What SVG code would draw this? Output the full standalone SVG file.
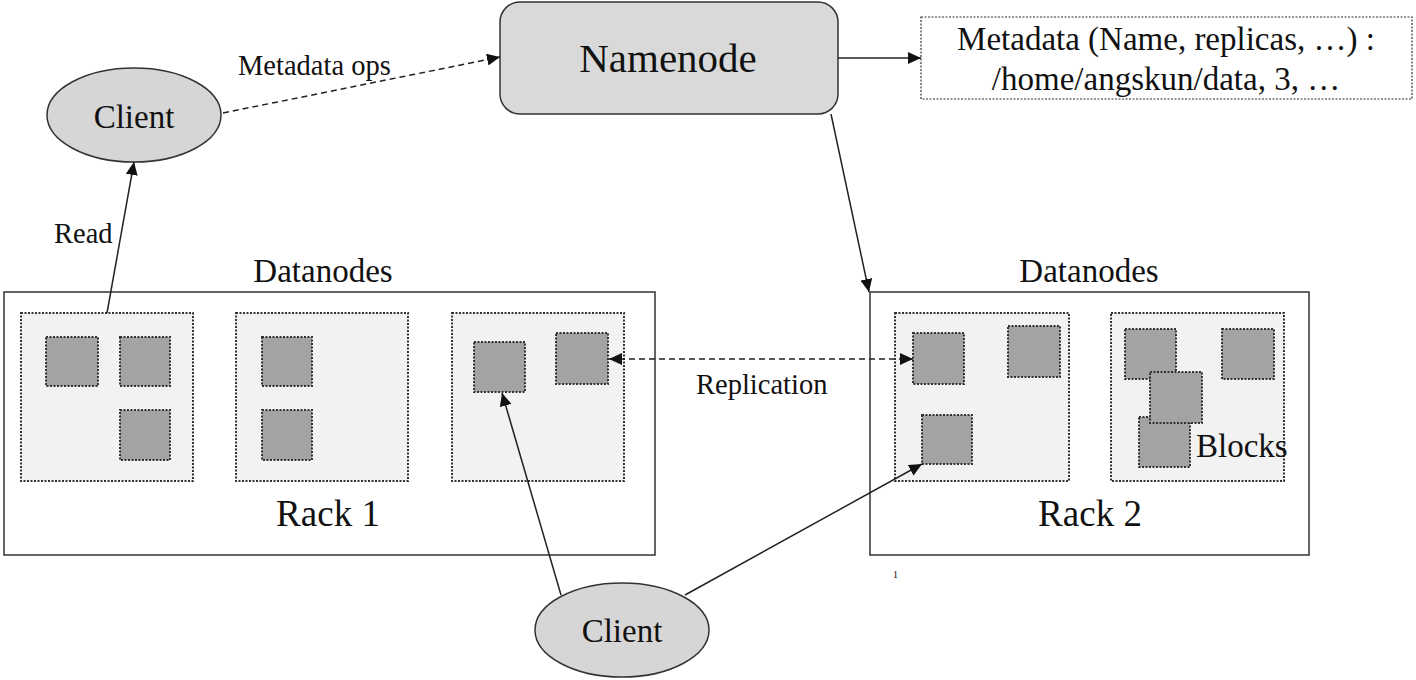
<svg xmlns="http://www.w3.org/2000/svg" width="1416" height="680" viewBox="0 0 1416 680">
<style>
.t{font-family:'Liberation Serif','DejaVu Serif',serif;fill:#111}
.ell{fill:#d6d6d6;stroke:#333;stroke-width:1.5}
.rack{fill:#fff;stroke:#333;stroke-width:1.5}
.node{fill:#f2f2f2;stroke:#333;stroke-width:2;stroke-dasharray:2 1.5}
.blk{fill:#a3a3a3;stroke:#333;stroke-width:2;stroke-dasharray:2 1.5}
.ln{stroke:#222;stroke-width:1.5;fill:none}
.dash{stroke-dasharray:6 4}
</style>
<defs>
<marker id="ah" markerUnits="userSpaceOnUse" markerWidth="14" markerHeight="12" refX="13" refY="6" orient="auto-start-reverse">
<path d="M0,0 L13,6 L0,12 Z" fill="#111"/>
</marker>
</defs>
<rect width="1416" height="680" fill="#fff"/>

<g id="rack1">
<rect class="rack" x="4" y="292" width="651" height="263"/>
<text class="t" font-family="Liberation Serif, serif" x="323" y="282" font-size="33" text-anchor="middle">Datanodes</text>
<text class="t" font-family="Liberation Serif, serif" x="328" y="526" font-size="37" text-anchor="middle">Rack 1</text>
</g>
<g id="dn1">
<rect class="node" x="21" y="313" width="172" height="168"/>
<rect class="blk" x="46" y="337" width="52" height="49"/>
<rect class="blk" x="120" y="337" width="50" height="49"/>
<rect class="blk" x="120" y="410" width="50" height="50"/>
</g>
<g id="dn2">
<rect class="node" x="236" y="313" width="172" height="168"/>
<rect class="blk" x="262" y="337" width="50" height="49"/>
<rect class="blk" x="262" y="410" width="50" height="50"/>
</g>
<g id="dn3">
<rect class="node" x="452" y="313" width="172" height="168"/>
<rect class="blk" x="474" y="342" width="51" height="50"/>
<rect class="blk" x="556" y="333" width="52" height="51"/>
</g>

<g id="rack2">
<rect class="rack" x="870" y="292" width="439" height="263"/>
<text class="t" font-family="Liberation Serif, serif" x="1089" y="282" font-size="33" text-anchor="middle">Datanodes</text>
<text class="t" font-family="Liberation Serif, serif" x="1090" y="526" font-size="37" text-anchor="middle">Rack 2</text>
</g>
<g id="dn4">
<rect class="node" x="895" y="313" width="174" height="168"/>
<rect class="blk" x="913" y="333" width="51" height="51"/>
<rect class="blk" x="1008" y="326" width="52" height="51"/>
<rect class="blk" x="922" y="415" width="50" height="49"/>
</g>
<g id="dn5">
<rect class="node" x="1111" y="313" width="173" height="168"/>
<rect class="blk" x="1125" y="329" width="51" height="50"/>
<rect class="blk" x="1222" y="329" width="52" height="50"/>
<rect class="blk" x="1139" y="417" width="51" height="50"/>
<rect class="blk" x="1150" y="372" width="52" height="51"/>
<text class="t" font-family="Liberation Serif, serif" x="1196" y="457" font-size="33">Blocks</text>
</g>

<g id="namenode">
<rect x="500" y="2" width="338" height="112" rx="20" fill="#d9d9d9" stroke="#333" stroke-width="1.5"/>
<text class="t" font-family="Liberation Serif, serif" x="668" y="72" font-size="41" text-anchor="middle">Namenode</text>
</g>
<g id="metadata">
<rect x="921" y="17" width="491" height="82" fill="#fff" stroke="#333" stroke-width="1.2" stroke-dasharray="2 1.5"/>
<text class="t" font-family="Liberation Serif, serif" x="1166" y="50" font-size="33" text-anchor="middle">Metadata (Name, replicas, …) :</text>
<text class="t" font-family="Liberation Serif, serif" x="1166" y="90" font-size="33" text-anchor="middle">/home/angskun/data, 3, …</text>
</g>
<g id="client-top">
<ellipse class="ell" cx="134" cy="115" rx="87" ry="47"/>
<text class="t" font-family="Liberation Serif, serif" x="134" y="128" font-size="33" text-anchor="middle">Client</text>
</g>
<g id="client-bottom">
<ellipse class="ell" cx="622" cy="630" rx="87" ry="47"/>
<text class="t" font-family="Liberation Serif, serif" x="622" y="642" font-size="33" text-anchor="middle">Client</text>
</g>

<g id="connectors">
<line class="ln dash" x1="223" y1="113" x2="500" y2="57" marker-end="url(#ah)"/>
<line class="ln" x1="838" y1="58" x2="921" y2="58" marker-end="url(#ah)"/>
<line class="ln" x1="831" y1="114" x2="869" y2="292" marker-end="url(#ah)"/>
<line class="ln" x1="107" y1="313" x2="134" y2="162" marker-end="url(#ah)"/>
<line class="ln dash" x1="609" y1="359" x2="913" y2="359" marker-start="url(#ah)" marker-end="url(#ah)"/>
<line class="ln" x1="561" y1="595" x2="502" y2="393" marker-end="url(#ah)"/>
<line class="ln" x1="685" y1="595" x2="922" y2="464" marker-end="url(#ah)"/>
</g>

<g id="labels">
<text class="t" font-family="Liberation Serif, serif" x="238" y="75" font-size="28.5">Metadata ops</text>
<text class="t" font-family="Liberation Serif, serif" x="54" y="243" font-size="28.5">Read</text>
<text class="t" font-family="Liberation Serif, serif" x="696" y="394" font-size="28.5">Replication</text>
<text class="t" font-family="Liberation Serif, serif" x="893" y="578" font-size="10">1</text>
</g>
</svg>
